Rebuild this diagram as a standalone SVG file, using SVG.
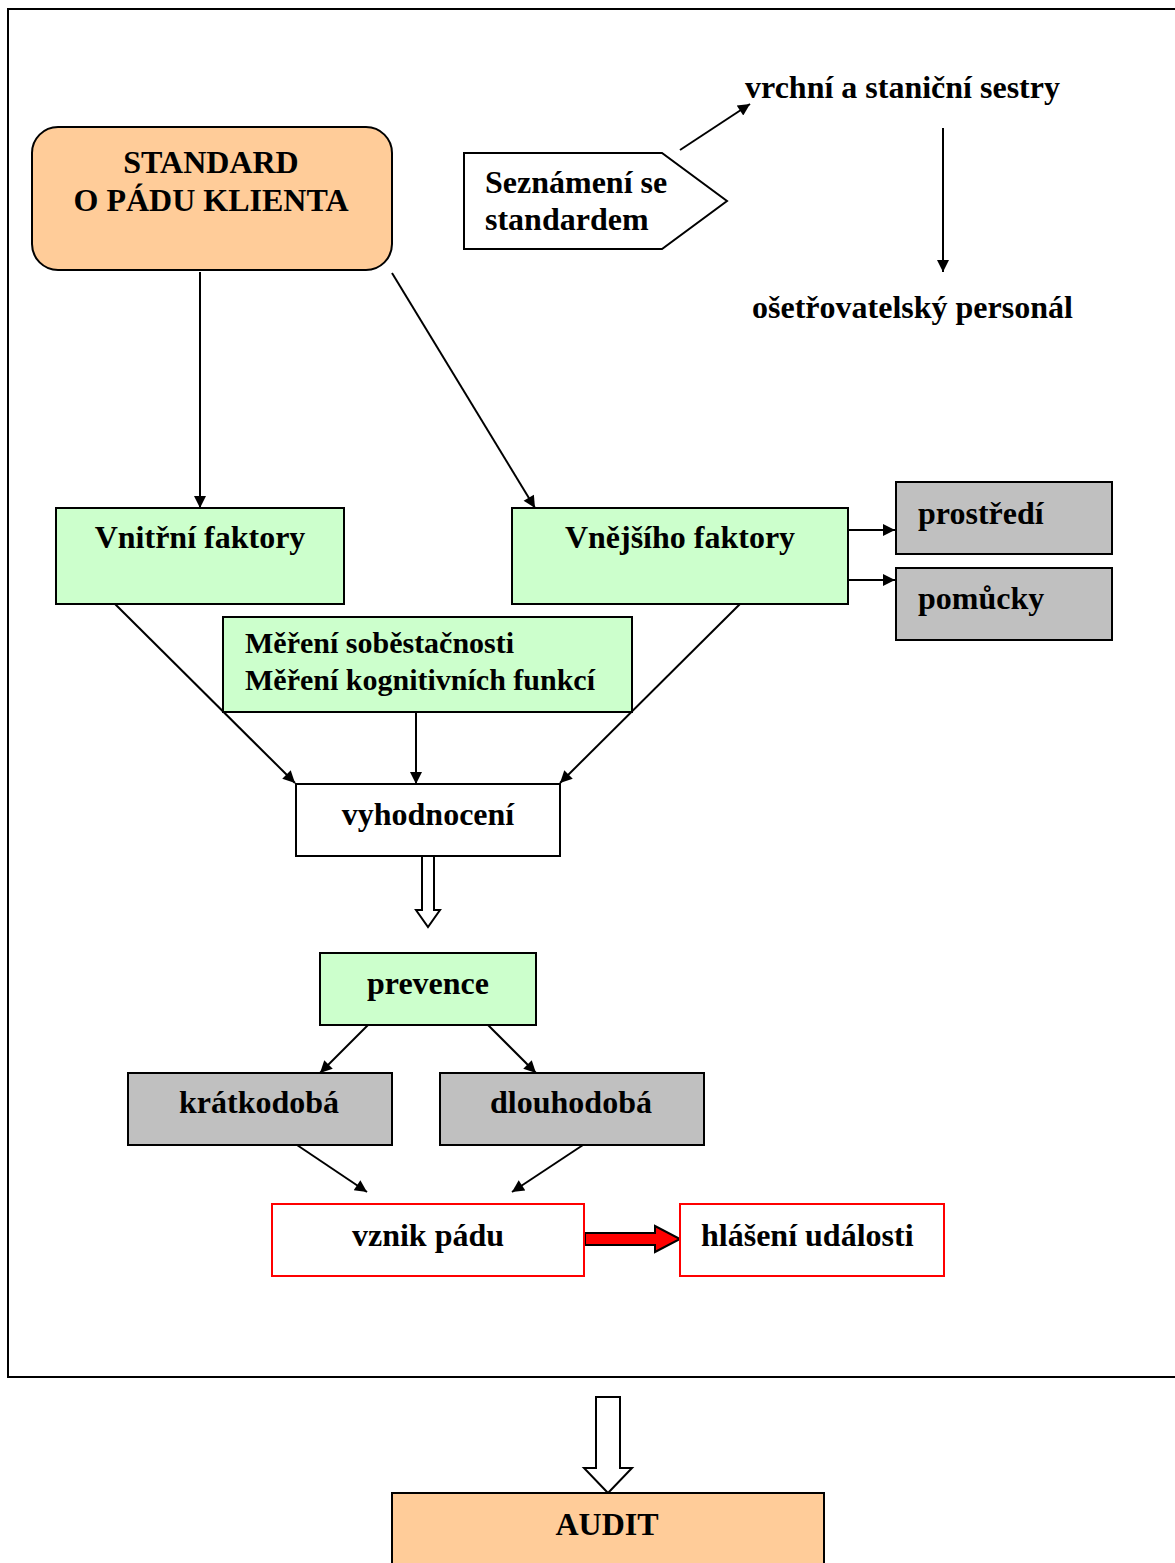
<svg xmlns="http://www.w3.org/2000/svg" width="1175" height="1563" viewBox="0 0 1175 1563">
<defs>
<style>
text{font-family:"Liberation Serif","Times New Roman",serif;font-weight:bold;font-size:32px;fill:#000}
.c{text-anchor:middle}
.box{stroke:#000;stroke-width:2}
.green{fill:#CCFFCC}
.gray{fill:#C0C0C0}
.orange{fill:#FFCC99}
.white{fill:#fff}
.red{fill:#fff;stroke:#FF0000;stroke-width:2}
.ln{stroke:#000;stroke-width:2;fill:none;marker-end:url(#ah)}
.hollow{fill:#fff;stroke:#000;stroke-width:2}
.sm{font-size:30px}
</style>
<marker id="ah" viewBox="0 0 10 10" refX="10" refY="5" markerWidth="8" markerHeight="6" markerUnits="strokeWidth" orient="auto">
<path d="M0,0 L10,5 L0,10 z" fill="#000"/>
</marker>
</defs>
<rect x="0" y="0" width="1175" height="1563" fill="#fff"/>
<rect x="8" y="9" width="1180" height="1368" fill="none" stroke="#000" stroke-width="2"/>

<g id="connectors">
<line class="ln" x1="680" y1="150" x2="750" y2="104"/>
<line class="ln" x1="943" y1="128" x2="943" y2="272"/>
<line class="ln" x1="200" y1="272" x2="200" y2="508"/>
<line class="ln" x1="392" y1="273" x2="535" y2="508"/>
<line class="ln" x1="848" y1="530" x2="895" y2="530"/>
<line class="ln" x1="848" y1="580" x2="895" y2="580"/>
<line class="ln" x1="115" y1="604" x2="295" y2="783"/>
<line class="ln" x1="416" y1="712" x2="416" y2="784"/>
<line class="ln" x1="740" y1="604" x2="560" y2="783"/>
<line class="ln" x1="368" y1="1025" x2="320" y2="1073"/>
<line class="ln" x1="488" y1="1025" x2="536" y2="1073"/>
<line class="ln" x1="297" y1="1145" x2="367" y2="1192"/>
<line class="ln" x1="583" y1="1145" x2="512" y2="1192"/>
<polygon class="hollow" points="422,856 434,856 434,910 440,910 428,927 416,910 422,910"/>
<polygon points="585,1233 655,1233 655,1226 680,1239 655,1252 655,1245 585,1245" fill="#FF0000" stroke="#000" stroke-width="2"/>
<polygon class="hollow" points="596,1397 620,1397 620,1468 632,1468 608,1493 584,1468 596,1468"/>
</g>

<g id="standard">
<rect class="box orange" x="32" y="127" width="360" height="143" rx="26"/>
<text class="c" x="211" y="173">STANDARD</text>
<text class="c" x="211" y="211">O PÁDU KLIENTA</text>
</g>
<g id="seznameni">
<polygon class="box white" points="464,153 662,153 727,201 662,249 464,249"/>
<text x="485" y="193">Seznámení se</text>
<text x="485" y="230">standardem</text>
</g>
<g id="vrchni"><text x="745" y="98">vrchní a staniční sestry</text></g>
<g id="osetrovatelsky"><text x="752" y="318">ošetřovatelský personál</text></g>
<g id="vnitrni">
<rect class="box green" x="56" y="508" width="288" height="96"/>
<text class="c" x="200" y="548">Vnitřní faktory</text>
</g>
<g id="vnejsi">
<rect class="box green" x="512" y="508" width="336" height="96"/>
<text class="c" x="680" y="548">Vnějšího faktory</text>
</g>
<g id="prostredi">
<rect class="box gray" x="896" y="482" width="216" height="72"/>
<text x="918" y="524">prostředí</text>
</g>
<g id="pomucky">
<rect class="box gray" x="896" y="568" width="216" height="72"/>
<text x="918" y="609">pomůcky</text>
</g>
<g id="mereni">
<rect class="box green" x="223" y="617" width="409" height="95"/>
<text class="sm" x="245" y="653">Měření soběstačnosti</text>
<text class="sm" x="245" y="690">Měření kognitivních funkcí</text>
</g>
<g id="vyhodnoceni">
<rect class="box white" x="296" y="784" width="264" height="72"/>
<text class="c" x="428" y="825">vyhodnocení</text>
</g>
<g id="prevence">
<rect class="box green" x="320" y="953" width="216" height="72"/>
<text class="c" x="428" y="994">prevence</text>
</g>
<g id="kratkodoba">
<rect class="box gray" x="128" y="1073" width="264" height="72"/>
<text class="c" x="259" y="1113">krátkodobá</text>
</g>
<g id="dlouhodoba">
<rect class="box gray" x="440" y="1073" width="264" height="72"/>
<text class="c" x="571" y="1113">dlouhodobá</text>
</g>
<g id="vznik">
<rect class="red" x="272" y="1204" width="312" height="72"/>
<text class="c" x="428" y="1246">vznik pádu</text>
</g>
<g id="hlaseni">
<rect class="red" x="680" y="1204" width="264" height="72"/>
<text x="701" y="1246">hlášení události</text>
</g>
<g id="audit">
<rect class="box orange" x="392" y="1493" width="432" height="80"/>
<text class="c" x="607" y="1535">AUDIT</text>
</g>
</svg>
